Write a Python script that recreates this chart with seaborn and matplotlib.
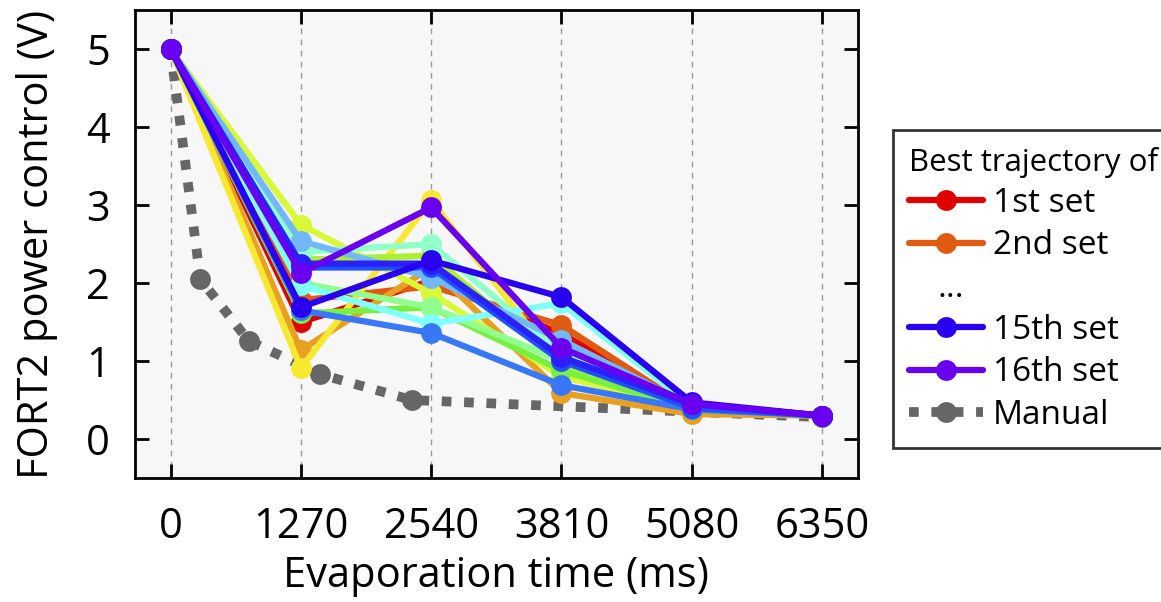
import numpy as np
import pandas as pd
import matplotlib
matplotlib.use("Agg")
import matplotlib.pyplot as plt
from matplotlib.lines import Line2D
import seaborn as sns

# evaporation time grid (ms) and best trajectories per optimisation set
times = [0, 1270, 2540, 3810, 5080, 6350]
set_names = [f"set{i}" for i in range(1, 17)]
set_values = [
    [5.0, 1.50, 2.03, 1.35, 0.40, 0.30],   # 1st
    [5.0, 1.78, 1.96, 1.46, 0.38, 0.30],   # 2nd
    [5.0, 1.14, 2.20, 0.59, 0.32, 0.30],
    [5.0, 0.91, 3.06, 0.90, 0.40, 0.30],
    [5.0, 2.75, 1.87, 0.80, 0.40, 0.30],
    [5.0, 2.30, 2.35, 0.95, 0.40, 0.30],
    [5.0, 1.61, 1.69, 0.88, 0.38, 0.30],
    [5.0, 2.00, 1.69, 1.00, 0.40, 0.30],
    [5.0, 2.40, 2.50, 1.10, 0.40, 0.30],
    [5.0, 1.97, 1.48, 1.74, 0.42, 0.30],
    [5.0, 2.54, 2.07, 1.27, 0.42, 0.30],
    [5.0, 1.65, 1.36, 0.69, 0.38, 0.30],
    [5.0, 2.20, 2.20, 1.00, 0.40, 0.30],
    [5.0, 2.25, 2.25, 1.05, 0.45, 0.30],
    [5.0, 1.69, 2.29, 1.82, 0.47, 0.30],   # 15th
    [5.0, 2.13, 2.97, 1.17, 0.45, 0.30],   # 16th
]
set_colors = [
    "#e00000", "#e05a10", "#e8a020", "#f8e830", "#d8f838", "#a8f030",
    "#78f040", "#90ff90", "#90ffc8", "#80ffff", "#70b8f8", "#3878f8",
    "#2050ff", "#2a20f8", "#2a00f0", "#6a00f0",
]

manual_t = [0, 290, 760, 1460, 2350, 6350]
manual_v = [5.0, 2.05, 1.26, 0.83, 0.50, 0.28]

legend_labels = ["1st set", "2nd set", "...", "15th set", "16th set", "Manual"]

rows = []
for name, vals in zip(set_names, set_values):
    for t, v in zip(times, vals):
        rows.append({"time": t, "power": v, "set": name})
df = pd.DataFrame(rows)
manual_df = pd.DataFrame({"time": manual_t, "power": manual_v})

sns.set_theme(style="ticks")
plt.rcParams["font.family"] = ["Open Sans", "DejaVu Sans"]
for key in ["text.color", "axes.labelcolor", "xtick.color", "ytick.color"]:
    plt.rcParams[key] = "black"

fig = plt.figure(figsize=(11.61, 6.02), dpi=100)
ax = fig.add_axes([0.116, 0.206, 0.623, 0.777])
ax.set_facecolor("#f7f7f7")

for t in times:
    ax.axvline(t, color="#999999", lw=1, ls=(0, (4, 4)), zorder=0)

sns.lineplot(data=manual_df, x="time", y="power", ax=ax, color="#666666",
             lw=7, marker="o", markersize=15, markeredgewidth=0,
             legend=False, zorder=2)
ax.lines[-1].set_dashes((1, 1.3))
ax.lines[-1].set_dash_capstyle("butt")

sns.lineplot(data=df, x="time", y="power", hue="set", hue_order=set_names,
             palette=set_colors, ax=ax, lw=4.5, marker="o", markersize=15,
             markeredgewidth=0, legend=False, zorder=3)

ax.set_xlim(-350, 6700)
ax.set_ylim(-0.5, 5.5)
ax.set_xticks(times)
ax.set_yticks([0, 1, 2, 3, 4, 5])
ax.tick_params(direction="in", length=10, width=2, top=True, right=True,
               labelsize=30)
ax.tick_params(axis="x", pad=20)
ax.tick_params(axis="y", pad=18)
for s in ax.spines.values():
    s.set_linewidth(2)
    s.set_color("black")
ax.set_xlabel("Evaporation time (ms)", fontsize=30, labelpad=5)
ax.set_ylabel("FORT2 power control (V)", fontsize=30, labelpad=20)

kw = dict(lw=4.5, marker="o", markersize=15, markeredgewidth=0)
handles = [
    Line2D([], [], color=set_colors[0], **kw),
    Line2D([], [], color=set_colors[1], **kw),
    Line2D([], [], color="none"),
    Line2D([], [], color=set_colors[14], **kw),
    Line2D([], [], color=set_colors[15], **kw),
    Line2D([], [], color="#666666", lw=7, ls=(0, (1, 1.3)), marker="o",
           markersize=15, markeredgewidth=0),
]
leg = fig.legend(handles, legend_labels, title="Best trajectory of",
                 loc="upper left", bbox_to_anchor=(0.769, 0.784),
                 borderaxespad=0, fontsize=24, title_fontsize=22.5,
                 frameon=True, fancybox=False, edgecolor="black",
                 handlelength=2.2, labelspacing=0.28, borderpad=0.5,
                 handletextpad=0.3)
leg.get_frame().set_linewidth(2)
leg._legend_box.align = "left"
for txt in leg.get_texts():
    if txt.get_text() == "...":
        txt.set_position((-55, 0))

fig.savefig("out.png", dpi=100)
